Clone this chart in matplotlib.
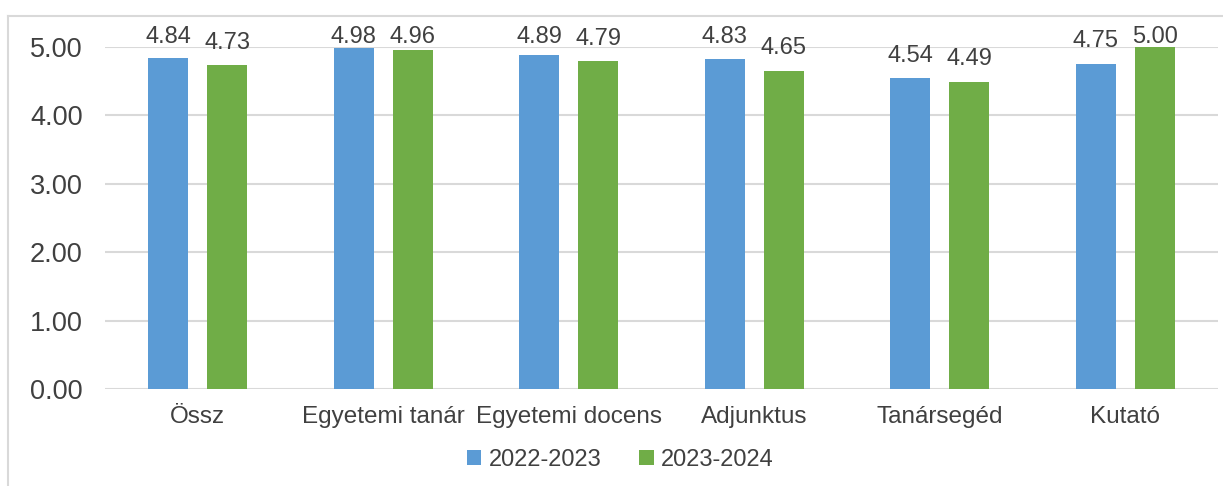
import numpy as np
import matplotlib.pyplot as plt
from matplotlib.lines import Line2D

categories = ['Össz', 'Egyetemi tanár', 'Egyetemi docens', 'Adjunktus', 'Tanársegéd', 'Kutató']
series_names = ['2022-2023', '2023-2024']
vals_2022 = [4.84, 4.98, 4.89, 4.83, 4.54, 4.75]
vals_2023 = [4.73, 4.96, 4.79, 4.65, 4.49, 5.00]
yticks = [0, 1, 2, 3, 4, 5]

blue = '#5B9BD5'
green = '#70AD47'
txt = '#404040'
grid = '#D9D9D9'

plt.rcParams['font.family'] = ['Liberation Sans', 'DejaVu Sans']

fig = plt.figure(figsize=(12.23, 4.86), dpi=100)
ax = fig.add_axes([105 / 1223, 1 - 389 / 486, 1113 / 1223, 342 / 486])

x = np.arange(len(categories))
w = 0.216
off = 0.159
b1 = ax.bar(x - off, vals_2022, w, color=blue, label=series_names[0], zorder=3)
b2 = ax.bar(x + off, vals_2023, w, color=green, label=series_names[1], zorder=3)

for bars in (b1, b2):
    for r in bars:
        h = r.get_height()
        # labels are kept inside the chart area, like the original
        ax.text(r.get_x() + r.get_width() / 2, min(h + 0.245, 5.065),
                f'{h:.2f}', ha='center', va='baseline',
                fontsize=17, color=txt, clip_on=False)

ax.set_xlim(-0.5, len(categories) - 0.5)
ax.set_ylim(0, 5)
ax.set_yticks(yticks)
ax.set_yticklabels([f'{v:.2f}' for v in yticks], fontsize=19.5, color=txt)
ax.set_xticks(x)
ax.set_xticklabels(categories, fontsize=17.5, color=txt)
ax.tick_params(axis='both', length=0)
ax.tick_params(axis='y', pad=16)
ax.tick_params(axis='x', pad=12)
ax.yaxis.grid(True, color=grid, linewidth=1.5, zorder=0)
for s in ax.spines.values():
    s.set_visible(False)

leg = fig.legend(handles=[b1, b2], loc='center', bbox_to_anchor=(0.507, 1 - 460 / 486),
                 ncol=2, frameon=False, fontsize=17, handlelength=0.62, handleheight=0.62,
                 columnspacing=1.6, handletextpad=0.3)
for t in leg.get_texts():
    t.set_color(txt)

# outer chart frame
fig.add_artist(Line2D([8 / 1223, 8 / 1223], [0, 1 - 16 / 486], color=grid, lw=1.5))
fig.add_artist(Line2D([8 / 1223, 1], [1 - 16 / 486, 1 - 16 / 486], color=grid, lw=1.5))

fig.savefig('out.png', dpi=100)
